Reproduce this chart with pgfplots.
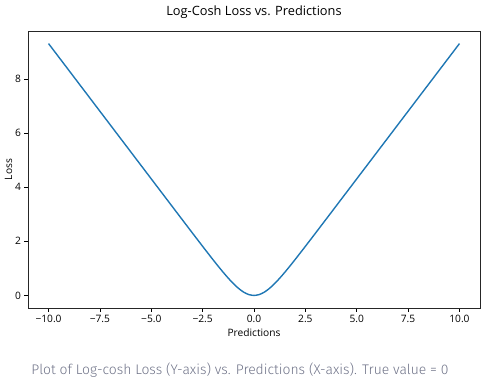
\documentclass[border=0pt]{standalone}
\usepackage{fontspec}
\setmainfont{Open Sans}
\newfontfamily\capfont{Fira Sans Light}
\usepackage{pgfplots}
\pgfplotsset{compat=1.18}
\definecolor{mplblue}{HTML}{1F77B4}
\definecolor{capgray}{HTML}{6F7388}
\begin{document}
\begin{tikzpicture}
\useasboundingbox (-28pt,-70pt) rectangle (459pt,308pt);
\begin{axis}[
  at={(0pt,0pt)}, anchor=south west,
  scale only axis, width=452pt, height=277pt,
  xmin=-11, xmax=11, ymin=-0.465, ymax=9.772,
  xtick={-10,-7.5,-5,-2.5,0,2.5,5,7.5,10},
  xticklabels={−10.0,−7.5,−5.0,−2.5,0.0,2.5,5.0,7.5,10.0},
  ytick={0,2,4,6,8},
  yticklabels={0,2,4,6,8},
  tick align=outside, tick pos=left,
  major tick length=3.5pt,
  every tick/.style={black, line width=0.8pt},
  axis line style={black!85, line width=0.8pt},
  tick label style={font=\fontsize{10.2}{12}\selectfont},
  xlabel={Predictions}, ylabel={Loss},
  label style={font=\fontsize{10.2}{12}\selectfont},
  xlabel style={yshift=1pt},
  ylabel style={yshift=-4pt},
  title={Log-Cosh Loss vs. Predictions},
  title style={font=\fontsize{12.8}{15}\selectfont, at={(0.5,1)}, anchor=center, yshift=13pt},
]
\addplot[mplblue, line width=1.4pt, smooth] coordinates {
(-10,9.30685) (-8,7.30685) (-7,6.30685) (-6,5.30685) (-5,4.30690) (-4.5,3.80716)
(-4,3.30734) (-3.5,2.80777) (-3,2.30933) (-2.5,1.81361) (-2,1.32500) (-1.75,1.08661)
(-1.5,0.85544) (-1.25,0.63574) (-1,0.43378) (-0.75,0.25828) (-0.5,0.12011) (-0.25,0.03093)
(0,0) (0.25,0.03093) (0.5,0.12011) (0.75,0.25828) (1,0.43378) (1.25,0.63574)
(1.5,0.85544) (1.75,1.08661) (2,1.32500) (2.5,1.81361) (3,2.30933) (3.5,2.80777)
(4,3.30734) (4.5,3.80716) (5,4.30690) (6,5.30685) (7,6.30685) (8,7.30685) (10,9.30685)
};
\end{axis}
\node[font=\capfont\fontsize{13.9}{17}\selectfont, text=capgray] at (212pt,-62pt) {Plot of Log-cosh Loss (Y-axis) vs. Predictions (X-axis). True value = 0};
\end{tikzpicture}
\end{document}
